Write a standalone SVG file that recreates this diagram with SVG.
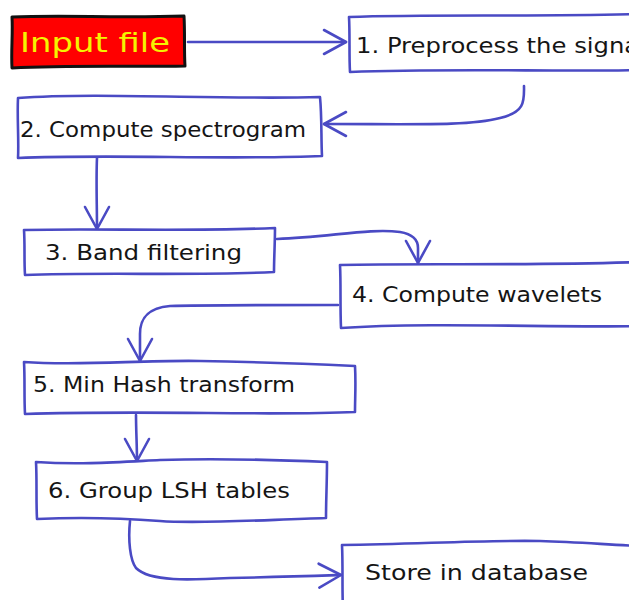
<svg xmlns="http://www.w3.org/2000/svg" width="629" height="600" viewBox="0 0 629 600">
  <style>
    .box { fill: #ffffff; stroke: #4a4ac4; stroke-width: 2.6; stroke-linejoin: round; }
    .start { fill: #ff0000; stroke: #111111; stroke-width: 3; stroke-linejoin: round; }
    .lbl { font-family: "DejaVu Sans", "Noto Sans", sans-serif; font-size: 21px; fill: #151515; }
    .lbl-start { font-family: "DejaVu Sans", "Noto Sans", sans-serif; font-size: 26px; fill: #f4f400; }
    .edge { fill: none; stroke: #4a4ac4; stroke-width: 2.6; stroke-linecap: round; stroke-linejoin: round; }
  </style>
  <defs>
    <marker id="head" viewBox="0 0 26 28" refX="24" refY="14" markerWidth="26" markerHeight="28" markerUnits="userSpaceOnUse" orient="auto">
      <path d="M2,2 L24,14 L2,26" fill="none" stroke="#4a4ac4" stroke-width="2.6" stroke-linecap="round" stroke-linejoin="round"/>
    </marker>
  </defs>
  <rect width="629" height="600" fill="#ffffff"/>

  <g id="connectors">
    <path class="edge" d="M188,42 L346,42" marker-end="url(#head)"/>
    <path class="edge" d="M524,86 C524,100 526,112 500,118 C470,126 420,124 324,124" marker-end="url(#head)"/>
    <path class="edge" d="M97,158 C96,180 97,205 97,229" marker-end="url(#head)"/>
    <path class="edge" d="M277,239 C330,237 370,228 400,232 C412,234 418,240 418,248 L418,263" marker-end="url(#head)"/>
    <path class="edge" d="M338,305 C280,305 200,305 170,306 C146,308 140,320 140,334 L140,361" marker-end="url(#head)"/>
    <path class="edge" d="M136,415 C136,430 137,446 137,461" marker-end="url(#head)"/>
    <path class="edge" d="M130,521 C128,540 130,560 136,568 C150,582 190,580 230,578 C280,577 310,576 341,575" marker-end="url(#head)"/>
  </g>

  <g id="input-file">
    <path class="start" d="M12,17 C60,15 120,18 184,16 C185,33 184,50 185,66 C130,67 70,65 12,68 C11,50 13,34 12,17 Z"/>
    <text class="lbl-start" x="20" y="52" textLength="150" lengthAdjust="spacingAndGlyphs">Input file</text>
  </g>

  <g id="step-1">
    <path class="box" d="M349,17 C430,14 530,17 640,14 L640,70 C560,72 450,68 350,72 C349,55 350,35 349,17 Z"/>
    <text class="lbl" x="356" y="53" textLength="290" lengthAdjust="spacingAndGlyphs">1. Preprocess the signal</text>
  </g>

  <g id="step-2">
    <path class="box" d="M18,98 C100,92 220,100 320,97 C322,118 321,138 322,156 C230,160 110,154 18,158 C19,140 17,118 18,98 Z"/>
    <text class="lbl" x="20" y="137" textLength="286" lengthAdjust="spacingAndGlyphs">2. Compute spectrogram</text>
  </g>

  <g id="step-3">
    <path class="box" d="M24,230 C100,228 180,232 275,228 C275,243 274,258 274,272 C200,276 100,272 25,275 C24,260 25,245 24,230 Z"/>
    <text class="lbl" x="45" y="260" textLength="197" lengthAdjust="spacingAndGlyphs">3. Band filtering</text>
  </g>

  <g id="step-4">
    <path class="box" d="M340,265 C420,263 520,266 640,262 L640,326 C560,328 430,322 341,328 C340,305 341,285 340,265 Z"/>
    <text class="lbl" x="352" y="302" textLength="250" lengthAdjust="spacingAndGlyphs">4. Compute wavelets</text>
  </g>

  <g id="step-5">
    <path class="box" d="M24,362 C80,366 140,360 200,361 C260,362 310,364 355,366 C356,384 355,398 355,412 C270,416 150,410 25,414 C24,396 25,380 24,362 Z"/>
    <text class="lbl" x="33" y="392" textLength="262" lengthAdjust="spacingAndGlyphs">5. Min Hash transform</text>
  </g>

  <g id="step-6">
    <path class="box" d="M36,462 C80,465 120,462 160,460 C220,458 280,460 327,462 C327,482 326,500 326,518 C260,520 200,524 160,521 C120,518 80,517 37,519 C36,500 37,480 36,462 Z"/>
    <text class="lbl" x="48" y="498" textLength="242" lengthAdjust="spacingAndGlyphs">6. Group LSH tables</text>
  </g>

  <g id="store-db">
    <path class="box" d="M342,545 C420,544 480,540 540,541 C580,542 610,545 640,546 L640,610 L343,610 C342,590 343,565 342,545 Z"/>
    <text class="lbl" x="365" y="580" textLength="223" lengthAdjust="spacingAndGlyphs">Store in database</text>
  </g>
</svg>
